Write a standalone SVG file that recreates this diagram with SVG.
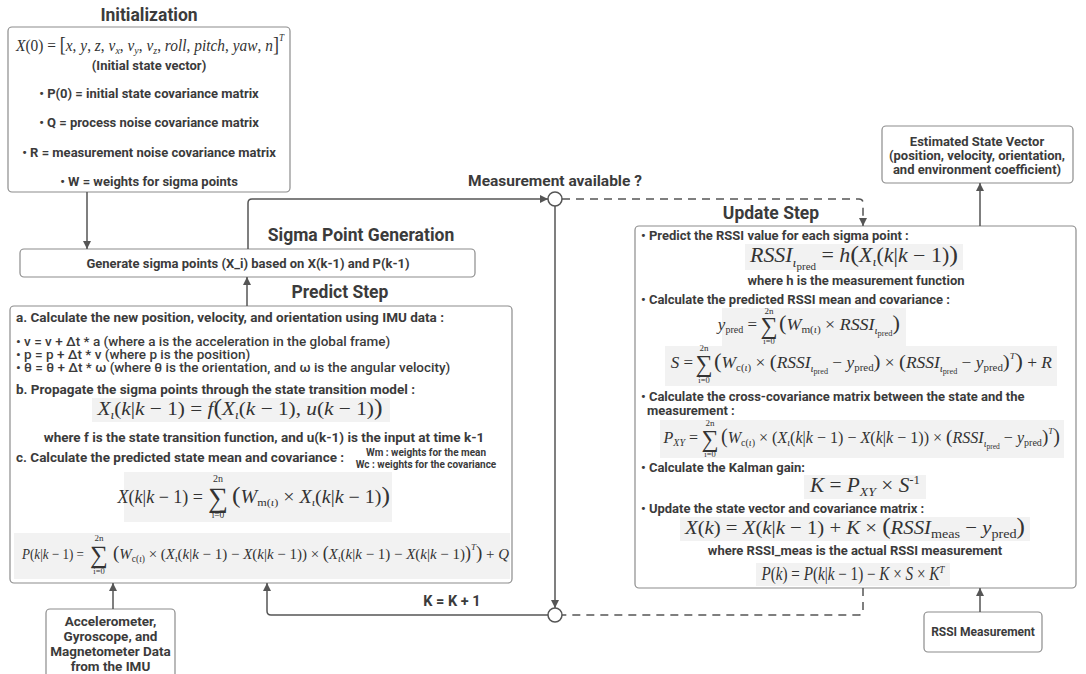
<svg xmlns="http://www.w3.org/2000/svg" width="1086" height="674" viewBox="0 0 1086 674">
  <defs>
    <style>
      .box{fill:#fff;stroke:#8c8c8c;stroke-width:1.2}
      .fb{fill:#f2f2f2}
      .t{font-family:Roboto,"Liberation Sans",Arial,sans-serif;font-weight:700;font-size:13px;fill:#3b3b3b}
      .tm{font-weight:500}
      .c{text-anchor:middle}
      .h{font-size:17.5px}
      .sm{font-size:10px}
      .p{font-size:13.5px}
      .m{font-family:"Liberation Serif","DejaVu Serif",serif;fill:#333}
      .i{font-style:italic}
      .ln{fill:none;stroke:#555;stroke-width:1.5}
      .dash{stroke-dasharray:8 6}
      .node{fill:#fff;stroke:#555;stroke-width:1.5}
    </style>
    <marker id="ah" viewBox="0 0 8 8" refX="8" refY="4" markerWidth="8" markerHeight="8" markerUnits="userSpaceOnUse" orient="auto">
      <path d="M0,0 L8,4 L0,8 z" fill="#555"/>
    </marker>
  </defs>

  <rect width="1086" height="674" fill="#fff"/>

  <!-- Initialization -->
  <g id="init">
    <text class="t h c" x="149" y="21">Initialization</text>
    <rect class="box" x="8" y="27" width="282" height="165" rx="4"/>
    <text class="m c" x="150" y="51" font-size="17" textLength="268" lengthAdjust="spacingAndGlyphs"><tspan class="i">X</tspan>(0) = <tspan font-size="20">[</tspan><tspan class="i">x</tspan>, <tspan class="i">y</tspan>, <tspan class="i">z</tspan>, <tspan class="i">v</tspan><tspan class="i" font-size="11" dy="3">x</tspan><tspan dy="-3">, </tspan><tspan class="i">v</tspan><tspan class="i" font-size="11" dy="3">y</tspan><tspan dy="-3">, </tspan><tspan class="i">v</tspan><tspan class="i" font-size="11" dy="3">z</tspan><tspan dy="-3">, </tspan><tspan class="i">roll</tspan>, <tspan class="i">pitch</tspan>, <tspan class="i">yaw</tspan>, <tspan class="i">n</tspan><tspan font-size="20">]</tspan><tspan class="i" font-size="10" dy="-10">T</tspan></text>
    <text class="t c" x="149" y="70">(Initial state vector)</text>
    <text class="t c" x="149" y="98">• P(0) = initial state covariance matrix</text>
    <text class="t c" x="149" y="127">• Q = process noise covariance matrix</text>
    <text class="t c" x="149" y="157">• R = measurement noise covariance matrix</text>
    <text class="t c" x="149" y="186">• W = weights for sigma points</text>
  </g>

  <!-- Sigma point generation -->
  <g id="sigma">
    <text class="t h c" x="361" y="241">Sigma Point Generation</text>
    <rect class="box" x="20" y="249" width="455" height="28" rx="4"/>
    <text class="t c" x="248" y="268">Generate sigma points (X_i) based on X(k-1) and P(k-1)</text>
  </g>

  <!-- Predict step -->
  <g id="predict">
    <text class="t h c" x="340" y="298">Predict Step</text>
    <rect class="box" x="10" y="306" width="502" height="277" rx="4"/>
    <text class="t p" x="16" y="322">a. Calculate the new position, velocity, and orientation using IMU data :</text>
    <text class="t tm p" x="16" y="346">• v = v + Δt * a (where a is the acceleration in the global frame)</text>
    <text class="t tm p" x="16" y="359">• p = p + Δt * v (where p is the position)</text>
    <text class="t tm p" x="16" y="372">• θ = θ + Δt * ω (where θ is the orientation, and ω is the angular velocity)</text>
    <text class="t p" x="16" y="394">b. Propagate the sigma points through the state transition model :</text>
    <rect class="fb" x="92" y="398" width="298" height="24"/>
    <text class="m c" x="240" y="415" font-size="19" textLength="285" lengthAdjust="spacingAndGlyphs"><tspan class="i">X</tspan><tspan class="i" font-size="12" dy="4">ι</tspan><tspan dy="-4">(</tspan><tspan class="i">k</tspan>|<tspan class="i">k</tspan> − 1) = <tspan class="i">f</tspan><tspan font-size="23">(</tspan><tspan class="i">X</tspan><tspan class="i" font-size="12" dy="4">ι</tspan><tspan dy="-4">(</tspan><tspan class="i">k</tspan> − 1), <tspan class="i">u</tspan>(<tspan class="i">k</tspan> − 1)<tspan font-size="23">)</tspan></text>
    <text class="t p c" x="264" y="442">where f is the state transition function, and u(k-1) is the input at time k-1</text>
    <text class="t p" x="16" y="462">c. Calculate the predicted state mean and covariance :</text>
    <text class="t sm c" x="426" y="456">Wm : weights for the mean</text>
    <text class="t sm c" x="426" y="468">Wc : weights for the covariance</text>
    <rect class="fb" x="124" y="472" width="268" height="50"/>
    <text class="m" x="203" y="503" text-anchor="end" font-size="18"><tspan class="i">X</tspan>(<tspan class="i">k</tspan>|<tspan class="i">k</tspan> − 1) =</text>
    <text class="m c" x="218" y="507" font-size="28">∑</text>
    <text class="m c" x="218" y="482" font-size="10">2n</text>
    <text class="m c" x="218" y="518" font-size="9.5">i=0</text>
    <text class="m" x="232" y="503" font-size="18" textLength="158" lengthAdjust="spacingAndGlyphs"><tspan font-size="23">(</tspan><tspan class="i">W</tspan><tspan font-size="11" dy="3">m(</tspan><tspan class="i" font-size="11">ι</tspan><tspan font-size="11">)</tspan><tspan dy="-3"> × </tspan><tspan class="i">X</tspan><tspan class="i" font-size="11" dy="3">ι</tspan><tspan dy="-3">(</tspan><tspan class="i">k</tspan>|<tspan class="i">k</tspan> − 1)<tspan font-size="23">)</tspan></text>
    <rect class="fb" x="14" y="533" width="496" height="46"/>
    <text class="m" x="84" y="559" text-anchor="end" font-size="15" textLength="62" lengthAdjust="spacingAndGlyphs"><tspan class="i">P</tspan>(<tspan class="i">k</tspan>|<tspan class="i">k</tspan> − 1) =</text>
    <text class="m c" x="99" y="563" font-size="25">∑</text>
    <text class="m c" x="99" y="541" font-size="9">2n</text>
    <text class="m c" x="99" y="574" font-size="8.5">i=0</text>
    <text class="m" x="113" y="559" font-size="15" textLength="396" lengthAdjust="spacingAndGlyphs"><tspan font-size="19">(</tspan><tspan class="i">W</tspan><tspan font-size="9.5" dy="3">c(</tspan><tspan class="i" font-size="9.5">ι</tspan><tspan font-size="9.5">)</tspan><tspan dy="-3"> × (</tspan><tspan class="i">X</tspan><tspan class="i" font-size="9.5" dy="3">ι</tspan><tspan dy="-3">(</tspan><tspan class="i">k</tspan>|<tspan class="i">k</tspan> − 1) − <tspan class="i">X</tspan>(<tspan class="i">k</tspan>|<tspan class="i">k</tspan> − 1)) × <tspan font-size="18">(</tspan><tspan class="i">X</tspan><tspan class="i" font-size="9.5" dy="3">ι</tspan><tspan dy="-3">(</tspan><tspan class="i">k</tspan>|<tspan class="i">k</tspan> − 1) − <tspan class="i">X</tspan>(<tspan class="i">k</tspan>|<tspan class="i">k</tspan> − 1)<tspan font-size="18">)</tspan><tspan class="i" font-size="9" dy="-9">T</tspan><tspan font-size="19" dy="9">)</tspan> + <tspan class="i">Q</tspan></text>
  </g>

  <!-- Update step -->
  <g id="update">
    <text class="t h c" x="771" y="219">Update Step</text>
    <rect class="box" x="635" y="226" width="441" height="362" rx="4"/>
    <text class="t" x="641" y="240">• Predict the RSSI value for each sigma point :</text>
    <rect class="fb" x="745" y="244" width="218" height="26"/>
    <text class="m c" x="854" y="262" font-size="20" textLength="208" lengthAdjust="spacingAndGlyphs"><tspan class="i">RSSI</tspan><tspan class="i" font-size="13" dy="5">ι</tspan><tspan font-size="10" dy="3">pred</tspan><tspan dy="-8"> = </tspan><tspan class="i">h</tspan><tspan font-size="24">(</tspan><tspan class="i">X</tspan><tspan class="i" font-size="13" dy="4">ι</tspan><tspan dy="-4">(</tspan><tspan class="i">k</tspan>|<tspan class="i">k</tspan> − 1)<tspan font-size="24">)</tspan></text>
    <text class="t c" x="856" y="285">where h is the measurement function</text>
    <text class="t" x="641" y="304">• Calculate the predicted RSSI mean and covariance :</text>
    <rect class="fb" x="722" y="308" width="184" height="38"/>
    <rect class="fb" x="665" y="346" width="392" height="40"/>
    <text class="m" x="757" y="330" text-anchor="end" font-size="17"><tspan class="i">y</tspan><tspan font-size="10" dy="3">pred</tspan><tspan dy="-3"> =</tspan></text>
    <text class="m c" x="769" y="334" font-size="24">∑</text>
    <text class="m c" x="769" y="314" font-size="9">2n</text>
    <text class="m c" x="769" y="344" font-size="8.5">i=0</text>
    <text class="m" x="779" y="330" font-size="16" textLength="121" lengthAdjust="spacingAndGlyphs"><tspan font-size="20">(</tspan><tspan class="i">W</tspan><tspan font-size="10" dy="3">m(</tspan><tspan class="i" font-size="10">ι</tspan><tspan font-size="10">)</tspan><tspan dy="-3"> × </tspan><tspan class="i">RSSI</tspan><tspan class="i" font-size="10" dy="4">ι</tspan><tspan font-size="7.5" dy="2">pred</tspan><tspan font-size="20" dy="-6">)</tspan></text>
    <text class="m" x="693" y="368" text-anchor="end" font-size="17"><tspan class="i">S</tspan> =</text>
    <text class="m c" x="704" y="372" font-size="24">∑</text>
    <text class="m c" x="704" y="351" font-size="9">2n</text>
    <text class="m c" x="704" y="383" font-size="8.5">i=0</text>
    <text class="m" x="714" y="368" font-size="16" textLength="338" lengthAdjust="spacingAndGlyphs"><tspan font-size="21">(</tspan><tspan class="i">W</tspan><tspan font-size="10" dy="3">c(</tspan><tspan class="i" font-size="10">ι</tspan><tspan font-size="10">)</tspan><tspan dy="-3"> × </tspan><tspan font-size="19">(</tspan><tspan class="i">RSSI</tspan><tspan class="i" font-size="10" dy="4">ι</tspan><tspan font-size="7.5" dy="2">pred</tspan><tspan dy="-6"> − </tspan><tspan class="i">y</tspan><tspan font-size="10" dy="3">pred</tspan><tspan font-size="19" dy="-3">)</tspan> × <tspan font-size="19">(</tspan><tspan class="i">RSSI</tspan><tspan class="i" font-size="10" dy="4">ι</tspan><tspan font-size="7.5" dy="2">pred</tspan><tspan dy="-6"> − </tspan><tspan class="i">y</tspan><tspan font-size="10" dy="3">pred</tspan><tspan font-size="19" dy="-3">)</tspan><tspan class="i" font-size="9" dy="-9">T</tspan><tspan font-size="21" dy="9">)</tspan> + <tspan class="i">R</tspan></text>
    <text class="t" x="641" y="401">• Calculate the cross-covariance matrix between the state and the</text>
    <text class="t" x="647" y="415">measurement :</text>
    <rect class="fb" x="660" y="420" width="404" height="38"/>
    <text class="m" x="698" y="443" text-anchor="end" font-size="16"><tspan class="i">P</tspan><tspan class="i" font-size="10" dy="3">XY</tspan><tspan dy="-3"> =</tspan></text>
    <text class="m c" x="710" y="447" font-size="24">∑</text>
    <text class="m c" x="710" y="426" font-size="9">2n</text>
    <text class="m c" x="710" y="457" font-size="8.5">i=0</text>
    <text class="m" x="721" y="443" font-size="16" textLength="339" lengthAdjust="spacingAndGlyphs"><tspan font-size="20">(</tspan><tspan class="i">W</tspan><tspan font-size="10" dy="3">c(</tspan><tspan class="i" font-size="10">ι</tspan><tspan font-size="10">)</tspan><tspan dy="-3"> × (</tspan><tspan class="i">X</tspan><tspan class="i" font-size="10" dy="3">ι</tspan><tspan dy="-3">(</tspan><tspan class="i">k</tspan>|<tspan class="i">k</tspan> − 1) − <tspan class="i">X</tspan>(<tspan class="i">k</tspan>|<tspan class="i">k</tspan> − 1)) × <tspan font-size="19">(</tspan><tspan class="i">RSSI</tspan><tspan class="i" font-size="10" dy="4">ι</tspan><tspan font-size="7.5" dy="2">pred</tspan><tspan dy="-6"> − </tspan><tspan class="i">y</tspan><tspan font-size="10" dy="3">pred</tspan><tspan font-size="19" dy="-3">)</tspan><tspan class="i" font-size="9" dy="-9">T</tspan><tspan font-size="20" dy="9">)</tspan></text>
    <text class="t" x="641" y="472">• Calculate the Kalman gain:</text>
    <rect class="fb" x="804" y="475" width="122" height="24"/>
    <text class="m c" x="865" y="492" font-size="20" textLength="110" lengthAdjust="spacingAndGlyphs"><tspan class="i">K</tspan> = <tspan class="i">P</tspan><tspan class="i" font-size="13" dy="4">XY</tspan><tspan dy="-4"> × </tspan><tspan class="i">S</tspan><tspan font-size="12" dy="-8">-1</tspan></text>
    <text class="t" x="641" y="513">• Update the state vector and covariance matrix :</text>
    <rect class="fb" x="680" y="517" width="350" height="24"/>
    <text class="m c" x="855" y="534" font-size="19" textLength="340" lengthAdjust="spacingAndGlyphs"><tspan class="i">X</tspan>(<tspan class="i">k</tspan>) = <tspan class="i">X</tspan>(<tspan class="i">k</tspan>|<tspan class="i">k</tspan> − 1) + <tspan class="i">K</tspan> × <tspan font-size="23">(</tspan><tspan class="i">RSSI</tspan><tspan font-size="13" dy="4">meas</tspan><tspan dy="-4"> − </tspan><tspan class="i">y</tspan><tspan font-size="13" dy="4">pred</tspan><tspan font-size="23" dy="-4">)</tspan></text>
    <text class="t c" x="855" y="555">where RSSI_meas is the actual RSSI measurement</text>
    <rect class="fb" x="756" y="563" width="194" height="23"/>
    <text class="m c" x="853" y="580" font-size="18" textLength="183" lengthAdjust="spacingAndGlyphs"><tspan class="i">P</tspan>(<tspan class="i">k</tspan>) = <tspan class="i">P</tspan>(<tspan class="i">k</tspan>|<tspan class="i">k</tspan> − 1) − <tspan class="i">K</tspan> × <tspan class="i">S</tspan> × <tspan class="i">K</tspan><tspan class="i" font-size="11" dy="-7">T</tspan></text>
  </g>

  <!-- Estimated state vector -->
  <g id="estimate">
    <rect class="box" x="882" y="126" width="191" height="57" rx="4"/>
    <text class="t c" x="977" y="146">Estimated State Vector</text>
    <text class="t c" x="977" y="160">(position, velocity, orientation,</text>
    <text class="t c" x="977" y="174">and environment coefficient)</text>
  </g>

  <!-- IMU input -->
  <g id="imu">
    <rect class="box" x="46" y="609" width="129" height="80" rx="4"/>
    <text class="t p c" x="110.5" y="626">Accelerometer,</text>
    <text class="t p c" x="110.5" y="641">Gyroscope, and</text>
    <text class="t p c" x="110.5" y="656">Magnetometer Data</text>
    <text class="t p c" x="110.5" y="671">from the IMU</text>
  </g>

  <!-- RSSI input -->
  <g id="rssi">
    <rect class="box" x="924" y="612" width="118" height="40" rx="4"/>
    <text class="t c" x="983" y="636" style="font-size:12px">RSSI Measurement</text>
  </g>

  <!-- Connectors -->
  <g id="connectors">
    <path class="ln" d="M87,192 V249" marker-end="url(#ah)"/>
    <path class="ln" d="M247,306 V277" marker-end="url(#ah)"/>
    <path class="ln" d="M248,249 V203 Q248,199 252,199 H548" marker-end="url(#ah)"/>
    <path class="ln dash" d="M562,199 H859 Q863,199 863,203 V226" marker-end="url(#ah)"/>
    <path class="ln" d="M555,206 V608" marker-end="url(#ah)"/>
    <path class="ln dash" d="M863,588 V611 Q863,615 859,615 H562"/>
    <path class="ln" d="M548,615 H271 Q267,615 267,611 V583" marker-end="url(#ah)"/>
    <path class="ln" d="M113,609 V583" marker-end="url(#ah)"/>
    <path class="ln" d="M980,226 V183" marker-end="url(#ah)"/>
    <path class="ln" d="M980,612 V588" marker-end="url(#ah)"/>
    <circle class="node" cx="555" cy="199" r="7"/>
    <circle class="node" cx="555" cy="615" r="7"/>
    <text class="t c" x="555" y="186" style="font-size:15.5px">Measurement available ?</text>
    <text class="t c" x="452" y="606" style="font-size:14.5px">K = K + 1</text>
  </g>
</svg>
